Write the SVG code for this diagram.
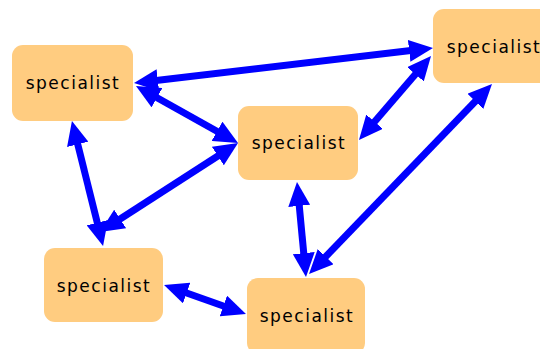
<svg xmlns="http://www.w3.org/2000/svg" width="540" height="349" viewBox="0 0 540 349">
<style>
.node rect{fill:#ffcc80;}
.node text{font-family:"DejaVu Sans",sans-serif;font-size:17px;letter-spacing:1.5px;fill:#000;text-anchor:middle;}
.edge{stroke:#0000ff;stroke-width:7;fill:none;marker-start:url(#ah);marker-end:url(#ah);}
</style>
<defs>
<marker id="ah" markerUnits="userSpaceOnUse" markerWidth="24" markerHeight="22" refX="6" refY="11" orient="auto-start-reverse">
<path d="M0,0 L24,11 L0,22 z" fill="#0000ff"/>
</marker>
</defs>
<rect width="540" height="349" fill="#ffffff"/>
<g id="nodes">
<g id="nA" class="node"><rect x="12" y="45" width="121" height="76" rx="11"/><text x="73" y="89">specialist</text></g>
<g id="nB" class="node"><rect x="238" y="106" width="120" height="74" rx="11"/><text x="299" y="149">specialist</text></g>
<g id="nC" class="node"><rect x="433" y="9" width="120" height="74" rx="11"/><text x="494" y="53">specialist</text></g>
<g id="nD" class="node"><rect x="44" y="248" width="119" height="74" rx="11"/><text x="104" y="292">specialist</text></g>
<g id="nE" class="node"><rect x="247" y="278" width="118" height="76" rx="11"/><text x="307" y="322">specialist</text></g>
</g>
<g id="connectors">
<line class="edge" x1="151.9" y1="80.9" x2="415.1" y2="50.1"/>
<line class="edge" x1="151.7" y1="94.8" x2="222.3" y2="134.2"/>
<line class="edge" x1="222.9" y1="152.8" x2="115.1" y2="222.2"/>
<line class="edge" x1="76.3" y1="138.5" x2="98.7" y2="228.5"/>
<line class="edge" x1="298.7" y1="199.9" x2="304.3" y2="259.1"/>
<line class="edge" x1="479.5" y1="97.0" x2="321.5" y2="261.0"/>
<line class="edge" x1="181.0" y1="291.0" x2="229.0" y2="308.0"/>
<line class="edge" x1="370.7" y1="126.3" x2="419.3" y2="69.7"/>
</g>
</svg>
